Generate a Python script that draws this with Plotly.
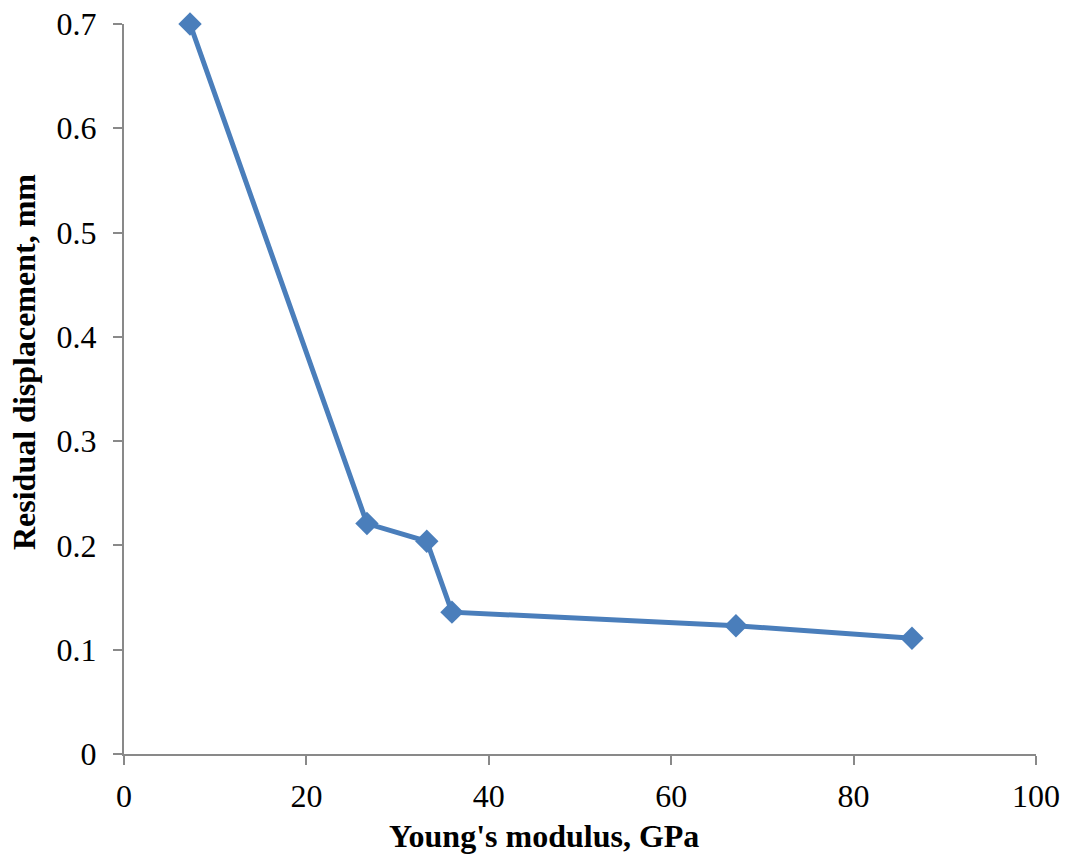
import plotly.graph_objects as go

youngs_modulus = [7.24, 26.64, 33.2, 35.96, 67.1, 86.4]
residual_disp = [0.700, 0.221, 0.204, 0.136, 0.123, 0.111]

x_ticks = [0, 20, 40, 60, 80, 100]
y_ticks = [0, 0.1, 0.2, 0.3, 0.4, 0.5, 0.6, 0.7]
y_tick_labels = ["0", "0.1", "0.2", "0.3", "0.4", "0.5", "0.6", "0.7"]

x_title = "<b>Young's modulus, GPa</b>"
y_title = "<b>Residual displacement, mm</b>"

fig = go.Figure()
fig.add_trace(go.Scatter(
    x=youngs_modulus, y=residual_disp,
    mode="lines+markers",
    line=dict(color="#4A7EBB", width=5),
    marker=dict(symbol="diamond", size=18, color="#4A7EBB"),
    cliponaxis=False,
    showlegend=False,
))

font = "Liberation Serif, Times New Roman, serif"
fig.update_layout(
    width=1068, height=855,
    margin=dict(l=124, r=32, t=24, b=101),
    paper_bgcolor="white", plot_bgcolor="white",
    font=dict(family=font, size=32, color="black"),
    xaxis=dict(
        range=[0, 100], tickvals=x_ticks,
        automargin=False,
        showgrid=False, zeroline=False,
        showline=True, linecolor="#898989", linewidth=2,
        ticks="outside", ticklen=9, tickwidth=2, tickcolor="#898989",
        tickfont=dict(size=32),
        ticklabelstandoff=4,
    ),
    yaxis=dict(
        range=[0, 0.7], tickvals=y_ticks, ticktext=y_tick_labels,
        automargin=False,
        showgrid=False, zeroline=False,
        showline=True, linecolor="#898989", linewidth=2,
        ticks="outside", ticklen=9, tickwidth=2, tickcolor="#898989",
        tickfont=dict(size=32),
        ticklabelstandoff=10,
    ),
    annotations=[
        dict(text=x_title, xref="paper", yref="paper", x=0.4605, y=-0.1123,
             xanchor="center", yanchor="middle", showarrow=False,
             font=dict(size=32)),
        dict(text=y_title, xref="paper", yref="paper", x=-0.1096, y=0.537,
             xanchor="center", yanchor="middle", showarrow=False, textangle=-90,
             font=dict(size=32)),
    ],
)

fig.write_html("out.html")
